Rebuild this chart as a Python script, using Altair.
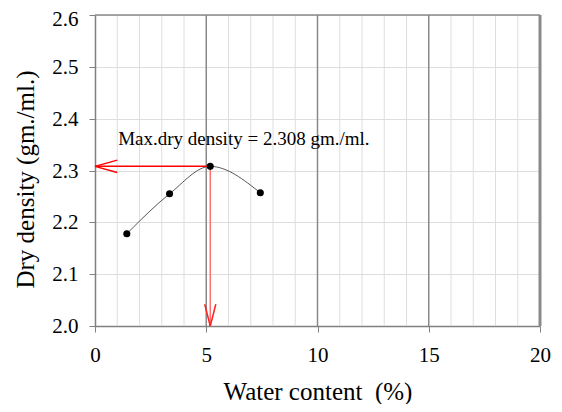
import altair as alt
import pandas as pd

# Data
water = [1.43, 3.35, 5.18, 7.43]
density = [2.178, 2.255, 2.308, 2.257]
max_water = 5.18
max_density = 2.308
x_ticks = [0, 5, 10, 15, 20]
y_ticks = [2.0, 2.1, 2.2, 2.3, 2.4, 2.5, 2.6]
grid_x = list(range(1, 21))
label_text = "Max.dry density = 2.308 gm./ml."

FONT = "Liberation Serif, Times New Roman, serif"

pts = pd.DataFrame({"w": water, "d": density})
grid = pd.DataFrame({
    "x": grid_x,
    "color": ["#8a8a8a" if v % 5 == 0 else "#dedede" for v in grid_x],
    "sw": [3 if v == 20 else (1.5 if v % 5 == 0 else 1) for v in grid_x],
})

xs = alt.Scale(domain=[0, 20], nice=False, zero=False)
ys = alt.Scale(domain=[2.0, 2.6], nice=False, zero=False)

x_axis = alt.Axis(values=x_ticks, grid=False, title="Water content\u00a0 (%)",
                  labelPadding=12, titlePadding=14, labelFlush=False,
                  labelFont=FONT, titleFont=FONT)
y_axis = alt.Axis(values=y_ticks, format=".1f", grid=True, gridColor="#dedede",
                  title="Dry density (gm./ml.)", labelPadding=11, titlePadding=13,
                  titleY=164, labelFlush=False,
                  labelOffset={"condition": {"test": "datum.value >= 2.59", "value": 4},
                               "value": 0.5},
                  labelFont=FONT, titleFont=FONT)

X = lambda f: alt.X(f, type="quantitative", scale=xs, axis=x_axis)
Y = lambda f: alt.Y(f, type="quantitative", scale=ys, axis=y_axis)

# arrow segments derived from the maximum point
y_min = y_ticks[0]
segs = pd.DataFrame([
    {"x": max_water, "y": max_density, "x2": 0, "y2": max_density, "c": "#ff0000"},
    {"x": 0, "y": max_density, "x2": 1.0, "y2": max_density + 0.012, "c": "#ff0000"},
    {"x": 0, "y": max_density, "x2": 1.0, "y2": max_density - 0.012, "c": "#ff0000"},
    {"x": max_water, "y": max_density, "x2": max_water, "y2": y_min, "c": "#ff7070"},
    {"x": max_water, "y": y_min, "x2": max_water - 0.25, "y2": y_min + 0.042, "c": "#ff2020"},
    {"x": max_water, "y": y_min, "x2": max_water + 0.25, "y2": y_min + 0.042, "c": "#ff2020"},
])

grid_layer = alt.Chart(grid).mark_rule().encode(
    x=X("x"),
    color=alt.Color("color:N", scale=None),
    strokeWidth=alt.StrokeWidth("sw:Q", scale=None),
)

top_border = alt.Chart(pd.DataFrame({"y": [y_ticks[-1]]})).mark_rule(
    color="#8a8a8a", strokeWidth=1.5).encode(y=Y("y"))

curve = alt.Chart(pts).mark_line(color="#555555", strokeWidth=1, interpolate="monotone").encode(
    x=X("w"), y=Y("d"))

arrows = alt.Chart(segs).mark_rule(strokeWidth=1.5).encode(
    x=X("x"), y=Y("y"), x2="x2", y2="y2", color=alt.Color("c:N", scale=None))

points = alt.Chart(pts).mark_circle(size=50, color="black", opacity=1).encode(
    x=X("w"), y=Y("d"))

label = alt.Chart(pd.DataFrame({"t": [label_text]})).mark_text(
    align="left", baseline="middle", font=FONT, fontSize=19, color="black"
).encode(x=alt.datum(1.04), y=alt.datum(2.36), text="t:N")

chart = alt.layer(grid_layer, top_border, curve, arrows, points, label).properties(
    width=445, height=311,
    autosize=alt.AutoSizeParams(type="none"),
    padding={"left": 87, "top": 7, "right": 14, "bottom": 78},
).configure(font=FONT).configure_view(stroke=None).configure_axis(
    labelFont=FONT, labelFontSize=21, labelColor="black",
    titleFont=FONT, titleFontSize=25, titleFontWeight="normal", titleColor="black",
    domainColor="#808080", domainWidth=1.5, tickColor="#808080", tickSize=6,
)

chart.save("out.html", embed_options={"renderer": "svg", "actions": False})
